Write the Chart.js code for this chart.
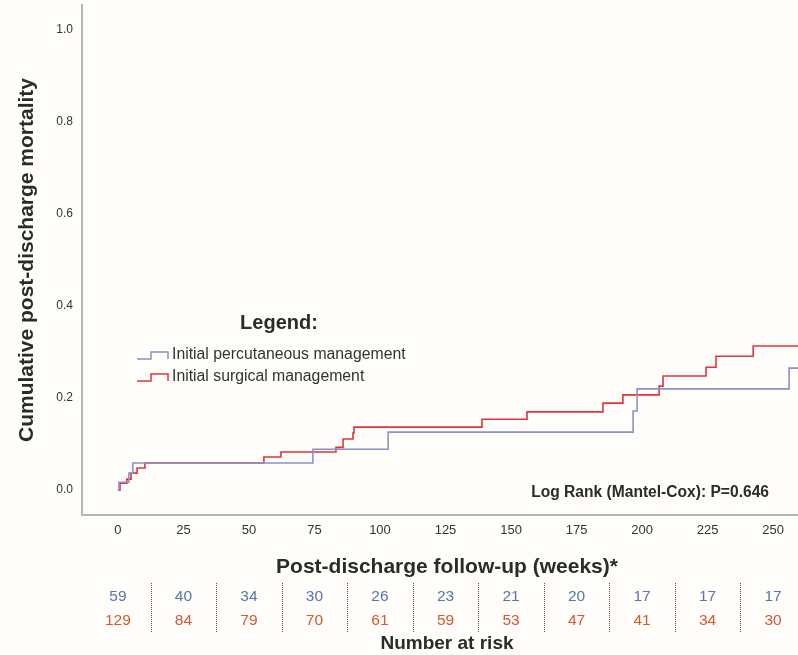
<!DOCTYPE html>
<html lang="en">
<head>
    <meta charset="UTF-8">
    <title>Cumulative post-discharge mortality</title>
    <script src="https://cdn.jsdelivr.net/npm/chart.js"></script>
    <style>
        body { background: #fefdf9; margin: 0; padding: 0; }
        #wrap { width: 798px; height: 655px; }
    </style>
</head>
<body>
<div id="wrap"><canvas id="kmChart" width="798" height="655"></canvas></div>
<script>
// survival curve steps (weeks, cumulative mortality)
const percWeeks = [0, 0.4, 4.2, 5.7, 74.4, 103.1, 196.6, 198.1, 256.1, 260];
const percMort  = [0, 0.017, 0.037, 0.059, 0.089, 0.126, 0.172, 0.220, 0.265, 0.265];
const surgWeeks = [0, 0.8, 3.4, 5.0, 7.3, 10.3, 55.7, 62.2, 83.2, 85.9, 89.7, 90.1, 138.9, 156.1, 185.1, 192.7, 206.5, 208.0, 224.4, 228.2, 242.4, 260];
const surgMort  = [0, 0.015, 0.024, 0.037, 0.048, 0.059, 0.072, 0.083, 0.093, 0.111, 0.124, 0.137, 0.154, 0.170, 0.189, 0.207, 0.226, 0.248, 0.267, 0.291, 0.313, 0.313];

// axis ticks
const xTicks = [0, 25, 50, 75, 100, 125, 150, 175, 200, 225, 250];
const yTicks = [0, 0.2, 0.4, 0.6, 0.8, 1.0];

// number at risk table
const percAtRisk = [59, 40, 34, 30, 26, 23, 21, 20, 17, 17, 17];
const surgAtRisk = [129, 84, 79, 70, 61, 59, 53, 47, 41, 34, 30];

const FONT = '"Liberation Sans", Arial, sans-serif';
const BLUE = '#8a93c4';
const RED = '#e0353d';

function toPoints(xs, ys) {
    return xs.map((x, i) => ({ x: x, y: ys[i] }));
}

const extras = {
    id: 'extras',
    afterDraw(chart) {
        const ctx = chart.ctx;
        const xs = chart.scales.x;
        ctx.save();
        ctx.fillStyle = '#2b2b2b';
        ctx.textAlign = 'center';
        ctx.textBaseline = 'middle';

        // y title
        ctx.save();
        ctx.translate(27, 260);
        ctx.rotate(-Math.PI / 2);
        ctx.font = 'bold 21px ' + FONT;
        ctx.fillText('Cumulative post-discharge mortality', 0, 0);
        ctx.restore();

        // x title
        ctx.font = 'bold 21px ' + FONT;
        ctx.fillText('Post-discharge follow-up (weeks)*', 447, 567);

        // legend
        ctx.font = 'bold 20px ' + FONT;
        ctx.fillText('Legend:', 279, 323);
        ctx.lineWidth = 1.5;
        [[BLUE, 359, 'Initial percutaneous management'], [RED, 381, 'Initial surgical management']].forEach(([c, y, t]) => {
            ctx.strokeStyle = c;
            ctx.beginPath();
            ctx.moveTo(137, y); ctx.lineTo(151, y); ctx.lineTo(151, y - 7);
            ctx.lineTo(168, y - 7); ctx.lineTo(168, y);
            ctx.stroke();
            ctx.textAlign = 'left';
            ctx.font = '15.8px ' + FONT;
            ctx.fillStyle = '#333';
            ctx.fillText(t, 172, y - 4);
        });

        // log rank
        ctx.textAlign = 'right';
        ctx.fillStyle = '#2b2b2b';
        ctx.font = 'bold 15.6px ' + FONT;
        ctx.fillText('Log Rank (Mantel-Cox): P=0.646', 769, 493);

        // risk table
        ctx.textAlign = 'center';
        ctx.font = '15.5px ' + FONT;
        xTicks.forEach((w, i) => {
            const px = xs.getPixelForValue(w);
            ctx.fillStyle = '#5577aa';
            ctx.fillText(String(percAtRisk[i]), px, 597);
            ctx.fillStyle = '#d5582f';
            ctx.fillText(String(surgAtRisk[i]), px, 621);
        });
        ctx.strokeStyle = '#555';
        ctx.lineWidth = 1;
        ctx.setLineDash([1, 1]);
        for (let i = 0; i < xTicks.length - 1; i++) {
            const px = Math.round(xs.getPixelForValue((xTicks[i] + xTicks[i + 1]) / 2)) + 0.5;
            ctx.beginPath();
            ctx.moveTo(px, 583);
            ctx.lineTo(px, 633);
            ctx.stroke();
        }
        ctx.setLineDash([]);
        ctx.fillStyle = '#2b2b2b';
        ctx.font = 'bold 19px ' + FONT;
        ctx.fillText('Number at risk', 447, 644);
        ctx.restore();
    }
};

new Chart(document.getElementById('kmChart').getContext('2d'), {
    type: 'line',
    data: {
        datasets: [
            { label: 'Initial percutaneous management', data: toPoints(percWeeks, percMort), borderColor: BLUE, borderWidth: 1.6, stepped: 'before', pointRadius: 0, fill: false },
            { label: 'Initial surgical management', data: toPoints(surgWeeks, surgMort), borderColor: RED, borderWidth: 1.6, stepped: 'before', pointRadius: 0, fill: false }
        ]
    },
    options: {
        responsive: false,
        animation: false,
        devicePixelRatio: 1,
        layout: { padding: { top: 5, left: 0, right: 0, bottom: 0 } },
        plugins: { legend: { display: false }, tooltip: { enabled: false } },
        scales: {
            x: {
                type: 'linear', min: -13.7, max: 259.5,
                grid: { display: false, drawTicks: false },
                border: { color: '#b5b5b5', width: 2 },
                ticks: { font: { family: FONT, size: 13 }, color: '#333', padding: 8, maxRotation: 0 },
                afterBuildTicks: s => { s.ticks = xTicks.map(v => ({ value: v })); },
                afterFit: s => { s.height = 140; s.paddingLeft = 0; s.paddingRight = 0; }
            },
            y: {
                min: -0.054, max: 1.054,
                grid: { display: false, drawTicks: false },
                border: { color: '#b5b5b5', width: 2 },
                ticks: { font: { family: FONT, size: 12 }, color: '#333', padding: 9, callback: v => v.toFixed(1) },
                afterBuildTicks: s => { s.ticks = yTicks.map(v => ({ value: v })); },
                afterFit: s => { s.width = 82; s.paddingTop = 0; s.paddingBottom = 0; }
            }
        }
    },
    plugins: [extras]
});
</script>
</body>
</html>
